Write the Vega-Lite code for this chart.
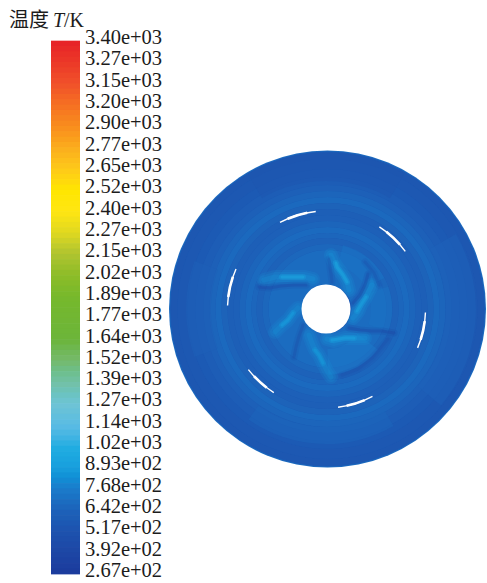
{
"$schema":"https://vega.github.io/schema/vega-lite/v6.json",
"width":487,"height":583,"padding":0,"autosize":{"type":"none"},
"background":"white","config":{"view":{"stroke":null}},
"datasets":{
"bar":[{"k":0.125,"T":3384},{"k":0.375,"T":3353},{"k":0.625,"T":3322},{"k":0.875,"T":3290},{"k":1.125,"T":3259},{"k":1.375,"T":3228},{"k":1.625,"T":3196},{"k":1.875,"T":3165},{"k":2.125,"T":3134},{"k":2.375,"T":3103},{"k":2.625,"T":3071},{"k":2.875,"T":3040},{"k":3.125,"T":3009},{"k":3.375,"T":2977},{"k":3.625,"T":2946},{"k":3.875,"T":2915},{"k":4.125,"T":2883},{"k":4.375,"T":2852},{"k":4.625,"T":2821},{"k":4.875,"T":2790},{"k":5.125,"T":2758},{"k":5.375,"T":2727},{"k":5.625,"T":2696},{"k":5.875,"T":2664},{"k":6.125,"T":2633},{"k":6.375,"T":2602},{"k":6.625,"T":2570},{"k":6.875,"T":2539},{"k":7.125,"T":2508},{"k":7.375,"T":2477},{"k":7.625,"T":2445},{"k":7.875,"T":2414},{"k":8.125,"T":2383},{"k":8.375,"T":2351},{"k":8.625,"T":2320},{"k":8.875,"T":2289},{"k":9.125,"T":2257},{"k":9.375,"T":2226},{"k":9.625,"T":2195},{"k":9.875,"T":2164},{"k":10.125,"T":2132},{"k":10.375,"T":2101},{"k":10.625,"T":2070},{"k":10.875,"T":2038},{"k":11.125,"T":2007},{"k":11.375,"T":1976},{"k":11.625,"T":1944},{"k":11.875,"T":1913},{"k":12.125,"T":1882},{"k":12.375,"T":1851},{"k":12.625,"T":1819},{"k":12.875,"T":1788},{"k":13.125,"T":1757},{"k":13.375,"T":1725},{"k":13.625,"T":1694},{"k":13.875,"T":1663},{"k":14.125,"T":1631},{"k":14.375,"T":1600},{"k":14.625,"T":1569},{"k":14.875,"T":1538},{"k":15.125,"T":1506},{"k":15.375,"T":1475},{"k":15.625,"T":1444},{"k":15.875,"T":1412},{"k":16.125,"T":1381},{"k":16.375,"T":1350},{"k":16.625,"T":1318},{"k":16.875,"T":1287},{"k":17.125,"T":1256},{"k":17.375,"T":1225},{"k":17.625,"T":1193},{"k":17.875,"T":1162},{"k":18.125,"T":1131},{"k":18.375,"T":1099},{"k":18.625,"T":1068},{"k":18.875,"T":1037},{"k":19.125,"T":1005},{"k":19.375,"T":974},{"k":19.625,"T":943},{"k":19.875,"T":912},{"k":20.125,"T":880},{"k":20.375,"T":849},{"k":20.625,"T":818},{"k":20.875,"T":786},{"k":21.125,"T":755},{"k":21.375,"T":724},{"k":21.625,"T":692},{"k":21.875,"T":661},{"k":22.125,"T":630},{"k":22.375,"T":599},{"k":22.625,"T":567},{"k":22.875,"T":536},{"k":23.125,"T":505},{"k":23.375,"T":473},{"k":23.625,"T":442},{"k":23.875,"T":411},{"k":24.125,"T":379},{"k":24.375,"T":348},{"k":24.625,"T":317},{"k":24.875,"T":286}],
"labels":[{"k":0,"t":"3.40e+03"},{"k":1,"t":"3.27e+03"},{"k":2,"t":"3.15e+03"},{"k":3,"t":"3.20e+03"},{"k":4,"t":"2.90e+03"},{"k":5,"t":"2.77e+03"},{"k":6,"t":"2.65e+03"},{"k":7,"t":"2.52e+03"},{"k":8,"t":"2.40e+03"},{"k":9,"t":"2.27e+03"},{"k":10,"t":"2.15e+03"},{"k":11,"t":"2.02e+03"},{"k":12,"t":"1.89e+03"},{"k":13,"t":"1.77e+03"},{"k":14,"t":"1.64e+03"},{"k":15,"t":"1.52e+03"},{"k":16,"t":"1.39e+03"},{"k":17,"t":"1.27e+03"},{"k":18,"t":"1.14e+03"},{"k":19,"t":"1.02e+03"},{"k":20,"t":"8.93e+02"},{"k":21,"t":"7.68e+02"},{"k":22,"t":"6.42e+02"},{"k":23,"t":"5.17e+02"},{"k":24,"t":"3.92e+02"},{"k":25,"t":"2.67e+02"}],
"rings":[{"r0":0,"r1":158.5,"a0":0,"a1":360,"T":680},{"r0":0,"r1":157.5,"a0":0,"a1":360,"T":570},{"r0":150,"r1":156.5,"a0":0,"a1":360,"T":555},{"r0":140,"r1":150,"a0":0,"a1":360,"T":565},{"r0":132,"r1":140,"a0":0,"a1":360,"T":580},{"r0":124,"r1":132,"a0":0,"a1":360,"T":605},{"r0":118,"r1":124,"a0":0,"a1":360,"T":630},{"r0":112,"r1":118,"a0":0,"a1":360,"T":655},{"r0":106,"r1":112,"a0":0,"a1":360,"T":675},{"r0":100,"r1":106,"a0":0,"a1":360,"T":645},{"r0":94,"r1":100,"a0":0,"a1":360,"T":620},{"r0":88,"r1":94,"a0":0,"a1":360,"T":630},{"r0":82,"r1":88,"a0":0,"a1":360,"T":655},{"r0":76,"r1":82,"a0":0,"a1":360,"T":680},{"r0":71,"r1":76,"a0":0,"a1":360,"T":660},{"r0":65,"r1":71,"a0":0,"a1":360,"T":640},{"r0":59,"r1":65,"a0":0,"a1":360,"T":665},{"r0":24,"r1":59,"a0":0,"a1":360,"T":690}],
"sectors":[{"r0":40,"r1":66,"a0":128,"a1":178,"T":760},{"r0":45,"r1":66,"a0":15,"a1":62,"T":730},{"r0":45,"r1":66,"a0":70,"a1":110,"T":720},{"r0":120,"r1":150,"a0":60,"a1":130,"T":640},{"r0":115,"r1":140,"a0":250,"a1":290,"T":630},{"r0":118,"r1":135,"a0":150,"a1":215,"T":660},{"r0":128,"r1":156,"a0":330,"a1":390,"T":540}],
"glow":[
{"s":"A","o":1,"x":23,"y":19,"T":900},{"s":"A","o":2,"x":21,"y":27,"T":900},{"s":"A","o":3,"x":17,"y":34,"T":900},{"s":"A","o":4,"x":11,"y":42,"T":900},{"s":"A","o":5,"x":8,"y":47,"T":900},{"s":"A","o":6,"x":5,"y":54,"T":900},
{"s":"B","o":1,"x":27,"y":-9,"T":900},{"s":"B","o":2,"x":32,"y":-3,"T":900},{"s":"B","o":3,"x":36,"y":6,"T":900},{"s":"B","o":4,"x":40,"y":12,"T":900},{"s":"B","o":5,"x":43,"y":18,"T":900},{"s":"B","o":6,"x":46,"y":24,"T":900},
{"s":"C","o":1,"x":1,"y":-30,"T":900},{"s":"C","o":2,"x":8,"y":-32,"T":900},{"s":"C","o":3,"x":19,"y":-29,"T":900},{"s":"C","o":4,"x":28,"y":-29,"T":900},{"s":"C","o":5,"x":39,"y":-29,"T":900},
{"s":"D","o":1,"x":-17,"y":-26,"T":880},{"s":"D","o":2,"x":-14,"y":-34,"T":880},{"s":"D","o":3,"x":-11,"y":-41,"T":880},{"s":"D","o":4,"x":-7,"y":-46,"T":880},{"s":"D","o":5,"x":-3,"y":-54,"T":880},{"s":"D","o":6,"x":1,"y":-62,"T":880},{"s":"D","o":7,"x":5,"y":-68,"T":880},
{"s":"E","o":1,"x":-28,"y":1,"T":880},{"s":"E","o":2,"x":-33,"y":-4,"T":880},{"s":"E","o":3,"x":-38,"y":-11,"T":880},{"s":"E","o":4,"x":-44,"y":-16,"T":880},{"s":"E","o":5,"x":-51,"y":-23,"T":880},
{"s":"F","o":1,"x":-13,"y":30,"T":900},{"s":"F","o":2,"x":-21,"y":32,"T":900},{"s":"F","o":3,"x":-32,"y":32,"T":900},{"s":"F","o":4,"x":-41,"y":32,"T":900},{"s":"F","o":5,"x":-51,"y":32,"T":900},{"s":"F","o":6,"x":-62,"y":29,"T":900}],
"core":[
{"s":"A","o":1,"x":21,"y":27,"T":960},{"s":"A","o":2,"x":17,"y":34,"T":960},{"s":"A","o":3,"x":11,"y":42,"T":960},{"s":"A","o":4,"x":10,"y":46,"T":960},
{"s":"B","o":1,"x":31,"y":-2,"T":920},{"s":"B","o":2,"x":36,"y":6,"T":920},{"s":"B","o":3,"x":40,"y":12,"T":920},
{"s":"C","o":1,"x":6,"y":-31,"T":930},{"s":"C","o":2,"x":19,"y":-29,"T":930},{"s":"C","o":3,"x":28,"y":-29,"T":930},
{"s":"D","o":1,"x":-11,"y":-41,"T":880},{"s":"D","o":2,"x":-7,"y":-46,"T":880},{"s":"D","o":3,"x":-3,"y":-54,"T":880},
{"s":"E","o":1,"x":-33,"y":-4,"T":890},{"s":"E","o":2,"x":-38,"y":-11,"T":890},{"s":"E","o":3,"x":-44,"y":-16,"T":890},
{"s":"F","o":1,"x":-23,"y":32,"T":950},{"s":"F","o":2,"x":-32,"y":32,"T":950},{"s":"F","o":3,"x":-44,"y":32,"T":950}],
"dark":[
{"s":"G1","o":1,"x":-20,"y":24,"T":400},{"s":"G1","o":2,"x":-32,"y":24,"T":400},{"s":"G1","o":3,"x":-45,"y":23,"T":400},{"s":"G1","o":4,"x":-56,"y":21,"T":400},{"s":"G1","o":5,"x":-67,"y":22,"T":400},
{"s":"G2","o":1,"x":23,"y":-19,"T":370},{"s":"G2","o":2,"x":34,"y":-21,"T":370},{"s":"G2","o":3,"x":45,"y":-22,"T":370},{"s":"G2","o":4,"x":56,"y":-22,"T":370},{"s":"G2","o":5,"x":68,"y":-24,"T":370},
{"s":"G3","o":1,"x":6,"y":27,"T":500},{"s":"G3","o":2,"x":5,"y":35,"T":500},{"s":"G3","o":3,"x":4,"y":42,"T":500},{"s":"G3","o":4,"x":3,"y":50,"T":500},
{"s":"G4","o":1,"x":27,"y":6,"T":380},{"s":"G4","o":2,"x":34,"y":14,"T":380},{"s":"G4","o":3,"x":39,"y":24,"T":380},{"s":"G4","o":4,"x":42,"y":35,"T":380},
{"s":"G5","o":1,"x":-23,"y":-16,"T":450},{"s":"G5","o":2,"x":-27,"y":-27,"T":450},{"s":"G5","o":3,"x":-30,"y":-38,"T":450},{"s":"G5","o":4,"x":-32,"y":-48,"T":450},
{"s":"G6","o":1,"x":39,"y":47,"T":500},{"s":"G6","o":2,"x":48,"y":36,"T":500},{"s":"G6","o":3,"x":53,"y":24,"T":500},
{"s":"G7","o":1,"x":16,"y":-66,"T":500},{"s":"G7","o":2,"x":32,"y":-60,"T":500},{"s":"G7","o":3,"x":46,"y":-49,"T":500},{"s":"G7","o":4,"x":62,"y":-30,"T":500}],
"slots":[{"r0":97.3,"r1":98.7,"a0":332,"a1":354},{"r0":96.7,"r1":99.3,"a0":337,"a1":349},{"r0":97.3,"r1":98.7,"a0":33,"a1":54},{"r0":96.7,"r1":99.3,"a0":38,"a1":49},{"r0":98.8,"r1":100.2,"a0":92,"a1":113},{"r0":98.2,"r1":100.8,"a0":97,"a1":108},{"r0":98.3,"r1":99.7,"a0":152,"a1":173},{"r0":97.7,"r1":100.3,"a0":157,"a1":168},{"r0":97.8,"r1":99.2,"a0":212,"a1":232},{"r0":97.2,"r1":99.8,"a0":217,"a1":227},{"r0":97.8,"r1":99.2,"a0":272,"a1":294},{"r0":97.2,"r1":99.8,"a0":277,"a1":289}],
"hub":[{"r0":0,"r1":24.5,"a0":0,"a1":360}],
"title":[{"t":"温度"}]
},
"resolve":{"scale":{"x":"independent","y":"independent","theta":"independent","radius":"independent"}},
"layer":[
{"data":{"name":"rings"},"mark":{"type":"arc"},
 "encoding":{"x":{"datum":1.5,"type":"quantitative","scale":{"domain":[-326,161],"nice":false,"zero":false},"axis":null},
 "y":{"datum":0,"type":"quantitative","scale":{"domain":[-274,309],"nice":false,"zero":false},"axis":null},
 "theta":{"field":"a0","type":"quantitative","stack":null,"scale":{"domain":[0,360]}},"theta2":{"field":"a1"},
 "radius":{"field":"r0","type":"quantitative","scale":{"type":"linear","domain":[0,158.5],"range":[0,158.5],"zero":true,"nice":false}},"radius2":{"field":"r1"},
 "color":{"field":"T","type":"quantitative","legend":null,"scale":{"domain":[267,392,517,642,768,893,1020,1140,1270,1390,1520,1640,1890,2020,2150,2270,2400,2520,2650,2770,2900,3150,3270,3400],"range":["#1b3a9c","#1d46a5","#1d52ae","#1d62b9","#1b7ccb","#189fdd","#22aee2","#5abbe4","#70c4d4","#74c0a6","#76ba6c","#6cb53a","#76b82c","#8cbc28","#b0c430","#e0d820","#ffe612","#ffe600","#fdc81a","#fbad1e","#f88c1e","#f0502a","#ec3828","#e62028"]}}}},
{"data":{"name":"sectors"},"mark":{"type":"arc","opacity":0.5},
 "encoding":{"x":{"datum":0,"type":"quantitative","scale":{"domain":[-326,161],"nice":false,"zero":false},"axis":null},
 "y":{"datum":0,"type":"quantitative","scale":{"domain":[-274,309],"nice":false,"zero":false},"axis":null},
 "theta":{"field":"a0","type":"quantitative","stack":null,"scale":{"domain":[0,360]}},"theta2":{"field":"a1"},
 "radius":{"field":"r0","type":"quantitative","scale":{"type":"linear","domain":[0,158.5],"range":[0,158.5],"zero":true,"nice":false}},"radius2":{"field":"r1"},
 "color":{"field":"T","type":"quantitative","legend":null}}},
{"data":{"name":"glow"},"mark":{"type":"line","strokeWidth":14,"opacity":0.14,"strokeCap":"round","strokeJoin":"round"},
 "encoding":{"x":{"field":"x","type":"quantitative","scale":{"domain":[-326,161],"nice":false,"zero":false},"axis":null},
 "y":{"field":"y","type":"quantitative","scale":{"domain":[-274,309],"nice":false,"zero":false},"axis":null},
 "order":{"field":"o"},"detail":{"field":"s"},"color":{"field":"T","type":"quantitative","legend":null}}},
{"data":{"name":"glow"},"mark":{"type":"line","strokeWidth":10,"opacity":0.16,"strokeCap":"round","strokeJoin":"round"},
 "encoding":{"x":{"field":"x","type":"quantitative","scale":{"domain":[-326,161],"nice":false,"zero":false},"axis":null},
 "y":{"field":"y","type":"quantitative","scale":{"domain":[-274,309],"nice":false,"zero":false},"axis":null},
 "order":{"field":"o"},"detail":{"field":"s"},"color":{"field":"T","type":"quantitative","legend":null}}},
{"data":{"name":"dark"},"mark":{"type":"line","strokeWidth":7,"opacity":0.18,"strokeCap":"round","strokeJoin":"round"},
 "encoding":{"x":{"field":"x","type":"quantitative","scale":{"domain":[-326,161],"nice":false,"zero":false},"axis":null},
 "y":{"field":"y","type":"quantitative","scale":{"domain":[-274,309],"nice":false,"zero":false},"axis":null},
 "order":{"field":"o"},"detail":{"field":"s"},"color":{"field":"T","type":"quantitative","legend":null}}},
{"data":{"name":"dark"},"mark":{"type":"line","strokeWidth":3,"opacity":0.35,"strokeCap":"round","strokeJoin":"round"},
 "encoding":{"x":{"field":"x","type":"quantitative","scale":{"domain":[-326,161],"nice":false,"zero":false},"axis":null},
 "y":{"field":"y","type":"quantitative","scale":{"domain":[-274,309],"nice":false,"zero":false},"axis":null},
 "order":{"field":"o"},"detail":{"field":"s"},"color":{"field":"T","type":"quantitative","legend":null}}},
{"data":{"name":"glow"},"mark":{"type":"line","strokeWidth":5,"opacity":0.22,"strokeCap":"round","strokeJoin":"round"},
 "encoding":{"x":{"field":"x","type":"quantitative","scale":{"domain":[-326,161],"nice":false,"zero":false},"axis":null},
 "y":{"field":"y","type":"quantitative","scale":{"domain":[-274,309],"nice":false,"zero":false},"axis":null},
 "order":{"field":"o"},"detail":{"field":"s"},"color":{"field":"T","type":"quantitative","legend":null}}},
{"data":{"name":"core"},"mark":{"type":"line","strokeWidth":6,"opacity":0.3,"strokeCap":"round","strokeJoin":"round"},
 "encoding":{"x":{"field":"x","type":"quantitative","scale":{"domain":[-326,161],"nice":false,"zero":false},"axis":null},
 "y":{"field":"y","type":"quantitative","scale":{"domain":[-274,309],"nice":false,"zero":false},"axis":null},
 "order":{"field":"o"},"detail":{"field":"s"},"color":{"field":"T","type":"quantitative","legend":null}}},
{"data":{"name":"core"},"mark":{"type":"line","strokeWidth":3,"opacity":0.5,"strokeCap":"round","strokeJoin":"round"},
 "encoding":{"x":{"field":"x","type":"quantitative","scale":{"domain":[-326,161],"nice":false,"zero":false},"axis":null},
 "y":{"field":"y","type":"quantitative","scale":{"domain":[-274,309],"nice":false,"zero":false},"axis":null},
 "order":{"field":"o"},"detail":{"field":"s"},"color":{"field":"T","type":"quantitative","legend":null}}},
{"data":{"name":"slots"},"mark":{"type":"arc","fill":"white"},
 "encoding":{"x":{"datum":0,"type":"quantitative","scale":{"domain":[-326,161],"nice":false,"zero":false},"axis":null},
 "y":{"datum":0,"type":"quantitative","scale":{"domain":[-274,309],"nice":false,"zero":false},"axis":null},
 "theta":{"field":"a0","type":"quantitative","stack":null,"scale":{"domain":[0,360]}},"theta2":{"field":"a1"},
 "radius":{"field":"r0","type":"quantitative","scale":{"type":"linear","domain":[0,158.5],"range":[0,158.5],"zero":true,"nice":false}},"radius2":{"field":"r1"}}},
{"data":{"name":"hub"},"mark":{"type":"arc","fill":"white"},
 "encoding":{"x":{"datum":0,"type":"quantitative","scale":{"domain":[-326,161],"nice":false,"zero":false},"axis":null},
 "y":{"datum":0,"type":"quantitative","scale":{"domain":[-274,309],"nice":false,"zero":false},"axis":null},
 "theta":{"field":"a0","type":"quantitative","stack":null,"scale":{"domain":[0,360]}},"theta2":{"field":"a1"},
 "radius":{"field":"r0","type":"quantitative","scale":{"type":"linear","domain":[0,158.5],"range":[0,158.5],"zero":true,"nice":false}},"radius2":{"field":"r1"}}},
{"data":{"name":"bar"},"mark":{"type":"rule","strokeWidth":6},
 "encoding":{"x":{"datum":51,"type":"quantitative","scale":{"domain":[0,487],"nice":false,"zero":false},"axis":null},"x2":{"datum":80},
 "y":{"field":"k","type":"quantitative","scale":{"domain":[-1.923,25.42],"reverse":true,"nice":false,"zero":false},"axis":null},
 "color":{"field":"T","type":"quantitative","legend":null}}},
{"data":{"name":"labels"},"mark":{"type":"text","align":"left","baseline":"middle","font":"Liberation Serif","fontSize":20.5,"color":"#1c1c1c","dy":-3},
 "encoding":{"x":{"datum":85,"type":"quantitative","scale":{"domain":[0,487],"nice":false,"zero":false},"axis":null},
 "y":{"field":"k","type":"quantitative","scale":{"domain":[-1.923,25.42],"reverse":true,"nice":false,"zero":false},"axis":null},
 "text":{"field":"t"}}},
{"data":{"name":"title"},"mark":{"type":"text","align":"left","baseline":"middle","font":"Noto Sans CJK SC","fontSize":20,"color":"#1c1c1c"},
 "encoding":{"x":{"datum":9,"type":"quantitative","scale":{"domain":[0,487],"nice":false,"zero":false},"axis":null},
 "y":{"datum":-0.96,"type":"quantitative","scale":{"domain":[-1.923,25.42],"reverse":true,"nice":false,"zero":false},"axis":null},
 "text":{"field":"t"}}},
{"data":{"values":[{"t":"T"}]},"mark":{"type":"text","align":"left","baseline":"middle","font":"Liberation Serif","fontStyle":"italic","fontSize":20,"color":"#1c1c1c"},
 "encoding":{"x":{"datum":53,"type":"quantitative","scale":{"domain":[0,487],"nice":false,"zero":false},"axis":null},
 "y":{"datum":-0.96,"type":"quantitative","scale":{"domain":[-1.923,25.42],"reverse":true,"nice":false,"zero":false},"axis":null},
 "text":{"field":"t"}}},
{"data":{"values":[{"t":"/K"}]},"mark":{"type":"text","align":"left","baseline":"middle","font":"Liberation Serif","fontSize":20,"color":"#1c1c1c"},
 "encoding":{"x":{"datum":64,"type":"quantitative","scale":{"domain":[0,487],"nice":false,"zero":false},"axis":null},
 "y":{"datum":-0.96,"type":"quantitative","scale":{"domain":[-1.923,25.42],"reverse":true,"nice":false,"zero":false},"axis":null},
 "text":{"field":"t"}}}
]}
